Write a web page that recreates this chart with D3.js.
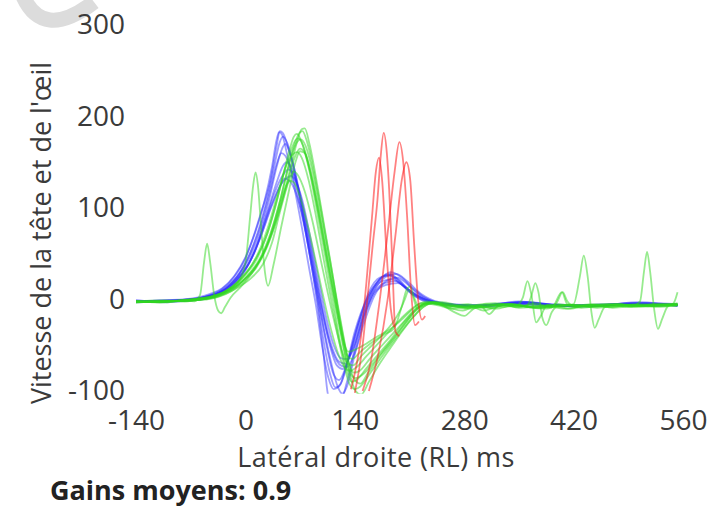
<!DOCTYPE html>
<html><head><meta charset="utf-8">
<script src="https://cdn.jsdelivr.net/npm/d3@7"></script>
<style>
html,body{margin:0;padding:0;background:#fff;}
svg{display:block;}
text{font-family:"Open Sans","Noto Sans",sans-serif;}
</style></head>
<body>
<svg id="c" width="720" height="507"></svg>
<script>
// ---- tick labels ----
const xTicks = [-140, 0, 140, 280, 420, 560];
const yTicks = [-100, 0, 100, 200, 300];
const xLabel = "Latéral droite (RL) ms";
const yLabel = "Vitesse de la tête et de l'œil";
const gainText = "Gains moyens: 0.9";

// ---- head velocity (blue) traces: [ms, deg/s] ----
const head1 = [[-140,-1],[-110,-2],[-80,-1],[-60,1],[-45,5],[-32,10],[-15,24],[0,45],[10,68],[20,95],[32,130],[40,168],[44,184],[48,182],[55,165],[65,130],[75,85],[85,35],[93,-10],[100,-60],[106,-105],[118,-120],[130,-90],[145,-35],[160,5],[175,25],[185,28],[195,22],[210,8],[230,-2],[260,-6],[300,-8],[340,-4],[380,-7],[420,-7],[470,-6],[510,-4],[553,-7]];
const head2 = [[-140,-2],[-100,-1],[-70,0],[-50,3],[-35,7],[-20,16],[-5,32],[8,55],[20,85],[30,118],[38,150],[44,172],[48,178],[54,170],[62,145],[72,100],[82,50],[92,0],[100,-45],[108,-80],[115,-96],[122,-92],[132,-65],[145,-25],[158,8],[172,24],[184,26],[198,18],[215,5],[235,-3],[270,-7],[310,-6],[345,-3],[390,-6],[430,-8],[480,-5],[520,-5],[553,-6]];
const head3 = [[-140,-3],[-105,-2],[-75,-1],[-55,2],[-40,5],[-25,12],[-10,25],[5,45],[18,72],[30,108],[40,145],[47,165],[51,170],[57,160],[66,130],[76,85],[86,38],[96,-12],[105,-55],[113,-82],[120,-88],[128,-75],[140,-35],[155,0],[170,20],[182,27],[196,22],[212,8],[232,-1],[265,-6],[305,-7],[350,-2],[395,-7],[440,-6],[490,-5],[525,-7],[553,-5]];
const head4 = [[-140,-2],[-100,-3],[-70,-1],[-50,1],[-35,5],[-18,14],[0,32],[15,60],[28,95],[40,128],[48,146],[53,150],[58,146],[67,122],[78,80],[88,35],[98,-10],[108,-50],[117,-72],[125,-76],[134,-60],[146,-25],[160,5],[175,20],[188,22],[202,15],[220,4],[245,-4],[285,-7],[325,-5],[360,-3],[400,-6],[450,-7],[495,-4],[553,-6]];
const head5 = [[-140,-1],[-105,-2],[-75,0],[-55,2],[-38,6],[-22,13],[-5,28],[12,52],[26,88],[38,118],[48,136],[55,142],[61,138],[70,115],[80,75],[90,30],[100,-15],[110,-50],[120,-68],[128,-70],[137,-55],[150,-20],[163,6],[178,18],[192,20],[206,12],[225,2],[250,-4],[290,-7],[330,-6],[370,-4],[410,-7],[460,-6],[505,-3],[553,-7]];
const head6 = [[-140,-2],[-100,-2],[-70,0],[-50,2],[-32,8],[-15,18],[2,36],[18,65],[32,100],[45,125],[53,133],[58,135],[64,130],[73,108],[83,68],[93,25],[103,-18],[113,-50],[122,-64],[130,-65],[140,-50],[152,-18],[166,8],[180,16],[195,18],[210,10],[230,0],[260,-5],[300,-6],[345,-5],[385,-5],[425,-6],[470,-5],[515,-4],[553,-5]];
const head7 = [[-140,-2],[-100,-1],[-72,0],[-52,3],[-36,7],[-22,15],[-8,28],[6,50],[20,82],[32,120],[40,148],[46,160],[51,157],[59,140],[69,105],[80,60],[90,15],[100,-30],[110,-70],[118,-95],[124,-103],[130,-95],[140,-60],[152,-20],[165,10],[180,25],[193,28],[207,20],[225,6],[248,-3],[285,-7],[320,-6],[360,-3],[400,-7],[445,-7],[490,-5],[530,-6],[553,-6]];
const head8 = [[-140,-2],[-100,-2],[-70,-1],[-48,2],[-30,8],[-12,20],[5,40],[20,70],[35,105],[45,125],[50,132],[56,130],[63,120],[72,95],[82,55],[92,12],[102,-28],[112,-58],[122,-72],[130,-74],[140,-58],[152,-25],[165,4],[180,20],[194,24],[210,15],[228,3],[255,-5],[295,-7],[335,-4],[375,-5],[415,-7],[455,-6],[500,-4],[553,-6]];
const head9 = [[-140,-2],[-110,-1],[-80,0],[-62,2],[-46,6],[-30,12],[-14,26],[0,46],[12,72],[24,106],[34,145],[40,175],[43,183],[47,180],[53,160],[62,125],[72,80],[82,32],[90,-5],[98,-50],[106,-85],[113,-98],[120,-95],[130,-70],[143,-30],[157,3],[172,22],[186,30],[200,24],[218,8],[240,-2],[275,-6],[315,-7],[355,-3],[395,-6],[440,-7],[485,-5],[525,-5],[553,-7]];

// ---- eye velocity (green) traces ----
const eye1 = [[-140,-2],[-110,-3],[-80,-1],[-55,0],[-40,3],[-25,8],[-10,16],[5,28],[20,45],[35,75],[48,112],[58,145],[66,172],[72,186],[76,187],[82,170],[92,125],[102,75],[112,25],[120,-20],[127,-50],[132,-57],[140,-55],[155,-48],[170,-40],[186,-32],[200,-22],[212,-12],[222,-5],[232,-2],[250,-4],[270,-8],[290,-10],[310,-6],[330,-5],[350,-9],[380,-7],[410,-10],[440,-6],[470,-8],[500,-5],[530,-7],[553,-6]];
const eye2 = [[-140,-3],[-105,-2],[-75,-1],[-52,1],[-35,5],[-20,12],[-5,24],[10,40],[25,65],[38,100],[48,135],[56,162],[62,178],[66,181],[72,172],[82,140],[92,95],[102,48],[112,0],[121,-45],[129,-75],[136,-90],[142,-88],[155,-75],[170,-60],[185,-45],[198,-30],[210,-18],[222,-8],[235,-3],[255,-6],[280,-9],[300,-7],[320,-10],[345,-6],[375,-9],[400,-5],[430,-9],[465,-6],[495,-8],[525,-5],[553,-5]];
const eye3 = [[-140,-2],[-100,-3],[-70,0],[-50,0],[-34,3],[-18,9],[-2,20],[14,35],[28,58],[42,92],[54,128],[63,155],[70,165],[75,162],[84,135],[94,92],[104,45],[114,0],[124,-45],[133,-80],[141,-100],[148,-104],[158,-90],[172,-70],[188,-50],[203,-32],[216,-18],[228,-8],[240,-4],[262,-7],[285,-5],[305,-9],[325,-6],[350,-8],[370,-4],[390,-8],[420,-6],[450,-9],[485,-6],[515,-7],[553,-6]];
const eye4 = [[-140,-2],[-105,-2],[-80,-1],[-60,1],[-42,4],[-25,9],[-10,18],[0,40],[6,90],[10,125],[13,139],[16,125],[20,80],[25,30],[29,15],[36,38],[46,80],[56,120],[64,150],[70,162],[76,160],[85,135],[95,92],[105,45],[115,0],[124,-40],[131,-62],[137,-65],[146,-58],[160,-48],[178,-38],[190,-32],[200,-8],[207,12],[211,14],[216,2],[222,-8],[232,-5],[252,-3],[275,-7],[300,-9],[325,-5],[352,-7],[380,-9],[410,-6],[440,-8],[470,-5],[500,-7],[530,-6],[553,-5]];
const eye5 = [[-140,-2],[-110,-2],[-85,-1],[-65,-2],[-58,5],[-53,40],[-49,61],[-45,40],[-40,5],[-35,-12],[-31,-15],[-26,-8],[-19,2],[-8,12],[5,25],[18,42],[30,65],[42,100],[52,135],[60,160],[66,172],[71,175],[77,168],[86,140],[96,95],[106,48],[116,2],[125,-40],[133,-72],[140,-88],[147,-92],[157,-80],[172,-62],[188,-45],[203,-28],[216,-14],[228,-6],[240,-3],[260,-5],[285,-9],[310,-7],[340,-5],[370,-9],[400,-7],[420,-5],[428,25],[433,48],[438,25],[443,-15],[447,-31],[452,-22],[460,-8],[475,-5],[495,-7],[505,-2],[510,30],[514,52],[518,30],[523,-10],[528,-32],[533,-22],[540,-8],[548,-4],[553,8]];
const eye6 = [[-140,-3],[-105,-2],[-78,-2],[-58,0],[-42,2],[-28,6],[-12,14],[3,26],[18,44],[32,72],[45,110],[55,145],[63,170],[69,182],[73,184],[79,172],[88,138],[98,92],[108,44],[117,0],[125,-38],[132,-68],[139,-80],[146,-78],[160,-64],[175,-50],[190,-36],[205,-22],[218,-10],[230,-4],[250,-6],[268,-14],[280,-18],[292,-10],[310,-5],[330,-8],[348,-6],[355,2],[361,20],[366,5],[372,-25],[378,-18],[386,-6],[400,-8],[425,-6],[450,-8],[480,-5],[510,-7],[540,-6],[553,-4]];
const eye7 = [[-140,-2],[-110,-3],[-82,-1],[-62,1],[-45,3],[-30,7],[-15,15],[0,27],[15,45],[28,72],[40,108],[50,140],[58,162],[64,174],[68,176],[74,168],[83,140],[93,98],[103,52],[113,6],[122,-36],[129,-66],[135,-82],[141,-86],[150,-82],[165,-68],[180,-52],[195,-36],[208,-22],[220,-10],[232,-4],[252,-5],[275,-8],[300,-6],[312,-16],[322,-8],[340,-5],[360,-7],[366,4],[371,18],[375,8],[380,-20],[385,-28],[392,-14],[402,-6],[420,-7],[445,-5],[470,-9],[500,-6],[530,-5],[553,-6]];
const eye8 = [[-140,-2],[-105,-1],[-78,-2],[-56,0],[-40,2],[-24,7],[-8,14],[8,24],[22,38],[34,62],[44,95],[52,120],[58,135],[62,140],[67,136],[76,118],[86,85],[96,45],[106,5],[116,-32],[124,-58],[131,-70],[138,-72],[148,-62],[162,-50],[176,-38],[188,-26],[198,-12],[204,0],[209,10],[214,4],[220,-10],[228,-5],[240,-4],[260,-9],[278,-12],[296,-6],[320,-4],[345,-8],[368,-6],[392,-9],[405,8],[412,-5],[430,-7],[460,-5],[490,-8],[520,-6],[553,-5]];
const eye9 = [[-140,-2],[-100,-2],[-72,-1],[-52,1],[-36,4],[-20,10],[-4,20],[12,34],[26,56],[38,85],[47,112],[53,126],[57,130],[62,128],[70,112],[80,80],[90,42],[100,2],[110,-34],[119,-60],[127,-74],[134,-78],[142,-74],[155,-62],[170,-48],[185,-34],[200,-20],[213,-10],[226,-4],[245,-6],[265,-10],[290,-7],[315,-9],[340,-5],[365,-8],[390,-6],[415,-10],[440,-6],[465,-8],[495,-6],[525,-8],[553,-6]];
const eye10 = [[-140,-3],[-108,-2],[-80,-1],[-60,1],[-44,3],[-28,8],[-12,17],[2,30],[16,50],[30,82],[42,118],[52,146],[60,158],[66,161],[72,155],[81,130],[91,88],[101,40],[111,-6],[120,-46],[127,-74],[133,-92],[140,-98],[147,-95],[160,-80],[175,-62],[190,-45],[204,-30],[216,-18],[228,-8],[240,-3],[262,-8],[284,-6],[305,-12],[318,-9],[335,-5],[358,-8],[385,-10],[398,-4],[406,8],[412,-2],[422,-8],[445,-6],[475,-5],[505,-8],[535,-6],[553,-7]];

// ---- covert saccades (red) ----
const sacc1 = [[140,-102],[150,-50],[156,0],[163,60],[169,109],[173,155],[177,182],[181,160],[184,120],[188,40],[192,-35],[197,-40]];
const sacc2 = [[150,-100],[160,-70],[172,0],[183,80],[191,140],[197,172],[202,150],[207,90],[212,10],[217,-28],[222,-24]];
const sacc3 = [[158,-100],[170,-60],[182,0],[192,70],[200,130],[206,150],[211,130],[216,60],[221,0],[226,-22],[230,-18]];
const sacc4 = [[135,-98],[148,-40],[155,20],[162,90],[167,140],[171,155],[175,130],[180,60],[186,-10],[190,-30]];

const headSeries = [head1, head2, head3, head4, head5, head6, head7, head8, head9];
const eyeSeries = [eye1, eye2, eye3, eye4, eye5, eye6, eye7, eye8, eye9, eye10];
const saccSeries = [sacc1, sacc2, sacc3, sacc4];

// ---- drawing ----
const svg = d3.select("#c");
svg.append("rect").attr("width",720).attr("height",507).attr("fill","#fff");

// faint logo watermark (decoration)
svg.append("path").attr("d","M22,-6 Q42,42 94,2").attr("fill","none")
  .attr("stroke","#dcdcdc").attr("stroke-width",15);

const x = d3.scaleLinear().domain([-140,560]).range([136,683]);
const y = d3.scaleLinear().domain([-100,300]).range([391,25]);

const defs = svg.append("defs");
defs.append("clipPath").attr("id","clip").append("rect")
  .attr("x", x(-150)).attr("y", y(305)).attr("width", x(570)-x(-150)).attr("height", y(-103)-y(305));

const line = d3.line().x(d=>x(d[0])).y(d=>y(d[1])).curve(d3.curveMonotoneX);
const plot = svg.append("g").attr("clip-path","url(#clip)");

function drawSet(series, color, op){
  plot.append("g").selectAll("path").data(series).join("path")
    .attr("d", line).attr("fill","none").attr("stroke", color)
    .attr("stroke-width",1.8).attr("stroke-opacity",op)
    .attr("stroke-linejoin","round");
}
drawSet(headSeries, "#2a2aff", 0.45);
drawSet(eyeSeries, "#2fd81e", 0.5);
drawSet(saccSeries, "#ff1a1a", 0.55);

// axes
const tickColor = "#3a3a3a";
const xAxis = svg.append("g").attr("transform",`translate(0,${y(-100)})`)
  .call(d3.axisBottom(x).tickValues(xTicks).tickSize(0).tickPadding(19).tickFormat(d=>String(d)));
const yAxis = svg.append("g").attr("transform",`translate(135,0)`)
  .call(d3.axisLeft(y).tickValues(yTicks).tickSize(0).tickPadding(10).tickFormat(d=>String(d)));
[xAxis,yAxis].forEach(a=>{
  a.select(".domain").remove();
  a.selectAll("text").attr("font-family","'Open Sans','Noto Sans',sans-serif")
    .attr("font-size",28).attr("fill",tickColor);
});

svg.append("text").attr("x",376).attr("y",467).attr("text-anchor","middle")
  .attr("font-size",27).attr("letter-spacing",0.45).attr("fill",tickColor).text(xLabel);

svg.append("text").attr("transform","translate(51,233) rotate(-90)").attr("text-anchor","middle")
  .attr("font-size",27).attr("fill",tickColor).text(yLabel);

svg.append("text").attr("x",50).attr("y",500).attr("font-size",27).attr("font-weight","bold")
  .attr("fill","#222").text(gainText);
</script>
</body></html>
